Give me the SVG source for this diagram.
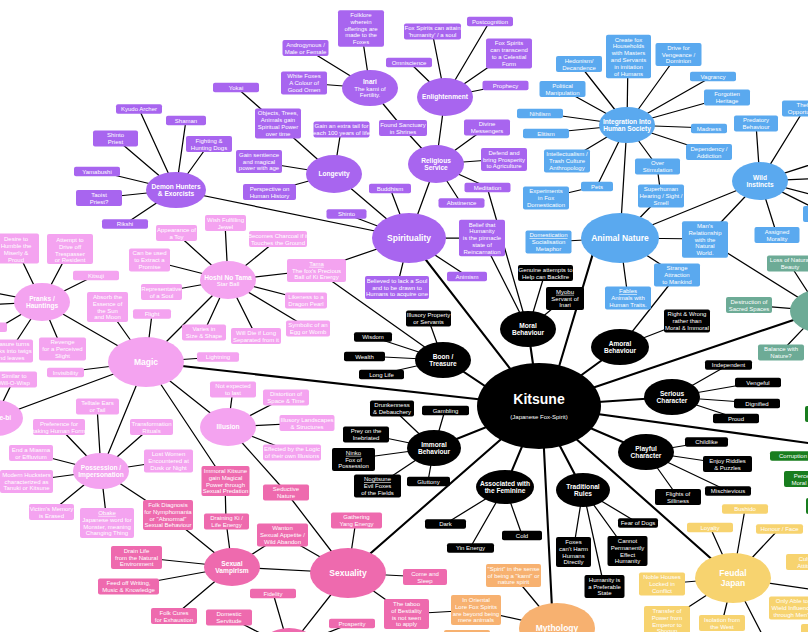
<svg xmlns="http://www.w3.org/2000/svg" width="808" height="632" viewBox="0 0 808 632">
<style>
.p{fill:#a865ef}.b{fill:#5aa9ef}.lp{fill:#f4a3f0}.hp{fill:#ee6aae}.k{fill:#000}.t{fill:#6dab96}.g{fill:#187d1e}.o{fill:#f7b170}.y{fill:#f7d36f}
rect{rx:2px;ry:2px}
text{font-family:"Liberation Sans",Arial,Helvetica,sans-serif;fill:#fff;text-anchor:middle}
.s{font-size:6px}
.e{font-size:6.6px;font-weight:bold}
.m{font-size:8.5px;font-weight:bold}
.kt{font-size:14px;font-weight:bold}
.u{text-decoration:underline}
#connectors path{stroke:#000;stroke-width:1.25;fill:none}
#connectors path.w{stroke-width:2.1}
</style>
<rect x="0" y="0" width="808" height="632" fill="#fff" style="rx:0"/>
<g id="connectors">
<path class="w" d="M539 406L409 238M443 358L530 416M539 406L528 329M549 400L597 240M539 406L620 347M539 406L672 397M539 406L646 452M539 406L583 490M543 430L553 628M539 406L505 487M539 406L434 448M539 406L348 573M539 406L146 362M539 406L733 578M539 406L820 311M539 406L830 446"/>
<path d="M409 238L436 164M409 238L390 188M409 238L346 214M409 238L482 238M409 238L467 276M409 238L397 287M409 238L334 174M409 238L176 190M409 238L316 270"/>
<path d="M436 164L445 97M436 164L403 128M436 164L487 127M436 164L504 159M436 164L487 187M436 164L461 203M487 187L528 329M482 238L528 329"/>
<path d="M445 97L432 31M445 97L490 21M445 97L409 62M445 97L509 53M445 97L505 85"/>
<path d="M370 88L361 28M370 88L305 48M370 88L304 83M370 88L403 128"/>
<path d="M334 174L341 130M334 174L278 124M334 174L259 162M334 174L269 192M278 124L236 87"/>
<path d="M176 190L139 109M176 190L186 120M176 190L209 144M176 190L115 138M176 190L97 171M176 190L99 198M176 190L125 224"/>
<path d="M443 360L428 318M443 360L373 337M443 360L364 356M443 360L381 374M443 360L316 270"/>
<path d="M528 329L545 273M528 329L565 298"/>
<path d="M620 238L627 125M620 238L760 181M620 238L548 242M620 238L628 298M620 238L705 239M620 238L677 275M620 238L661 196"/>
<path d="M627 125L628 56M627 125L678 54M627 125L713 76M627 125L727 97M627 125L709 128M627 125L709 152M627 125L657 166M627 125L579 64M627 125L562 89M627 125L540 113M627 125L546 133M627 125L567 161M627 125L597 186M597 186L546 198M657 166L661 196"/>
<path d="M760 181L756 124M760 181L805 108M760 181L777 235M760 181L705 239M760 181L825 160M760 181L825 178M760 181L825 198M760 181L826 214"/>
<path d="M705 239L820 311M677 275L620 347M620 347L687 321M820 311L789 263M820 311L749 305M820 311L781 352"/>
<path d="M672 397L728 365M672 397L758 382M672 397L757 403M672 397L736 418"/>
<path d="M646 452L706 442M646 452L727 464M646 452L728 491M646 452L678 497"/>
<path d="M583 490L573 552M583 490L604 586M583 490L627 551M583 490L638 523"/>
<path d="M505 487L445 524M505 487L470 548M505 487L522 535"/>
<path d="M434 448L392 408M434 448L445 410M434 448L366 434M434 448L353 459M434 448L377 486M434 448L428 481"/>
<path d="M733 578L745 509M733 578L710 527M733 578L779 529M733 578L662 584M733 578L667 621M733 578L722 623M733 578L765 640M733 578L830 592"/>
<path d="M557 628L513 575M557 628L476 610M476 610L406 614"/>
<path d="M348 573L356 520M348 573L286 492M348 573L282 535M348 573L232 567M348 573L406 614M348 573L425 577M348 573L289 648M289 648L273 593M289 648L229 617M289 648L352 623"/>
<path d="M232 567L226 521M232 567L282 535M232 567L168 515M232 567L136 557M232 567L128 586M232 567L174 616M226 521L225 481M146 362L225 481"/>
<path d="M228 427L233 389M228 427L286 397M228 427L307 423M228 427L292 452M228 427L286 492M228 427L146 362"/>
<path d="M101 471L59 427M101 471L151 427M101 471L31 453M101 471L26 481M101 471L51 512M101 471L107 523M101 471L168 461M101 471L168 515M101 471L97 406M101 471L146 362"/>
<path d="M146 362L42 302M146 362L107 307M146 362L152 314M146 362L65 372M146 362L-5 418M146 362L228 280M146 362L218 357M-5 418L14 379"/>
<path d="M228 280L225 223M228 280L278 239M228 280L316 270M228 280L306 300M228 280L308 328M228 280L256 336M228 280L204 332M228 280L176 233M228 280L149 260M228 280L161 292"/>
<path d="M42 302L16 248M42 302L70 249M42 302L96 275M42 302L62 349M42 302L10 351M42 302L0 327M42 302L-20 290M42 302L-20 305"/>
</g>

<g id="n-kitsune"><ellipse class="k" cx="539" cy="406" rx="62" ry="43"/><text class="kt" x="539" y="404">Kitsune</text><text class="s" x="539" y="418.5">(Japanese Fox-Spirit)</text></g>

<g id="n-spirituality"><ellipse class="p" cx="409" cy="238" rx="37" ry="25"/><text class="m" x="409" y="241">Spirituality</text></g>
<g id="n-inari"><ellipse class="p" cx="370" cy="88" rx="28" ry="18"/><text class="e" x="370" y="83.5">Inari</text><text class="s" y="90.5"><tspan x="370">The kami of</tspan><tspan x="370" dy="6.8">Fertility.</tspan></text></g>
<g id="n-enlightenment"><ellipse class="p" cx="445" cy="97" rx="28" ry="19"/><text class="e" x="445" y="99.4">Enlightenment</text></g>
<g id="n-religious"><ellipse class="p" cx="436" cy="164" rx="28" ry="19"/><text class="e" y="162.5"><tspan x="436">Religious</tspan><tspan x="436" dy="7.4">Service</tspan></text></g>
<g id="n-longevity"><ellipse class="p" cx="334" cy="174" rx="28" ry="19"/><text class="e" x="334" y="176.4">Longevity</text></g>
<g id="n-demon"><ellipse class="p" cx="176" cy="190" rx="30" ry="18"/><text class="e" y="188.5"><tspan x="176">Demon Hunters</tspan><tspan x="176" dy="7.4">&amp; Exorcists</tspan></text></g>

<g id="n-folklore"><rect class="p" x="338" y="10.2" width="46" height="36.6"/><text class="s" y="17"><tspan x="361">Folklore</tspan><tspan x="361" dy="6.8">wherein</tspan><tspan x="361" dy="6.8">offerings are</tspan><tspan x="361" dy="6.8">made to the</tspan><tspan x="361" dy="6.8">Foxes</tspan></text></g>
<g id="n-androgynous"><rect class="p" x="282.5" y="39.9" width="46" height="16.2"/><text class="s" y="46.7"><tspan x="305.5">Androgynous /</tspan><tspan x="305.5" dy="6.8">Male or Female</tspan></text></g>
<g id="n-whitefoxes"><rect class="p" x="281" y="71.5" width="46" height="23"/><text class="s" y="78.3"><tspan x="304">White Foxes</tspan><tspan x="304" dy="6.8">A Colour of</tspan><tspan x="304" dy="6.8">Good Omen</tspan></text></g>
<g id="n-yokai"><rect class="p" x="213" y="82.8" width="46" height="9.4"/><text class="s" x="236" y="89.6">Yokai</text></g>
<g id="n-objects"><rect class="p" x="255" y="108.6" width="46" height="29.8"/><text class="s" y="115.4"><tspan x="278">Objects, Trees,</tspan><tspan x="278" dy="6.8">Animals gain</tspan><tspan x="278" dy="6.8">Spiritual Power</tspan><tspan x="278" dy="6.8">over time</tspan></text></g>
<g id="n-extratail"><rect class="p" x="313.5" y="121.4" width="56" height="16.2"/><text class="s" y="128.2"><tspan x="341.5">Gain an extra tail for</tspan><tspan x="341.5" dy="6.8">each 100 years of life</tspan></text></g>
<g id="n-sanctuary"><rect class="p" x="379" y="119.9" width="48" height="16.2"/><text class="s" y="126.7"><tspan x="403">Found Sanctuary</tspan><tspan x="403" dy="6.8">in Shrines</tspan></text></g>
<g id="n-sentience"><rect class="p" x="236" y="150" width="46" height="23"/><text class="s" y="156.8"><tspan x="259">Gain sentience</tspan><tspan x="259" dy="6.8">and magical</tspan><tspan x="259" dy="6.8">power with age</tspan></text></g>
<g id="n-perspective"><rect class="p" x="243" y="183.9" width="53" height="16.2"/><text class="s" y="190.7"><tspan x="269.5">Perspective on</tspan><tspan x="269.5" dy="6.8">Human History</tspan></text></g>
<g id="n-buddhism"><rect class="p" x="369" y="183.8" width="42" height="9.4"/><text class="s" x="390" y="190.6">Buddhism</text></g>
<g id="n-attain"><rect class="p" x="404" y="23.4" width="57" height="16.2"/><text class="s" y="30.2"><tspan x="432.5">Fox Spirits can attain</tspan><tspan x="432.5" dy="6.8">'humanity' / a soul</tspan></text></g>
<g id="n-postcognition"><rect class="p" x="467" y="16.8" width="46" height="9.4"/><text class="s" x="490" y="23.6">Postcognition</text></g>
<g id="n-omniscience"><rect class="p" x="386" y="57.8" width="46" height="9.4"/><text class="s" x="409" y="64.6">Omniscience</text></g>
<g id="n-transcend"><rect class="p" x="486" y="38.6" width="46" height="29.8"/><text class="s" y="45.4"><tspan x="509">Fox Spirits</tspan><tspan x="509" dy="6.8">can transcend</tspan><tspan x="509" dy="6.8">to a Celestial</tspan><tspan x="509" dy="6.8">Form</tspan></text></g>
<g id="n-prophecy"><rect class="p" x="482.5" y="80.8" width="46" height="9.4"/><text class="s" x="505.5" y="87.6">Prophecy</text></g>
<g id="n-divine"><rect class="p" x="464" y="119.4" width="46" height="16.2"/><text class="s" y="126.2"><tspan x="487">Divine</tspan><tspan x="487" dy="6.8">Messengers</tspan></text></g>
<g id="n-defend"><rect class="p" x="481" y="148" width="46" height="23"/><text class="s" y="154.8"><tspan x="504">Defend and</tspan><tspan x="504" dy="6.8">bring Prosperity</tspan><tspan x="504" dy="6.8">to Agriculture</tspan></text></g>
<g id="n-meditation"><rect class="p" x="464.5" y="182.8" width="46" height="9.4"/><text class="s" x="487.5" y="189.6">Meditation</text></g>
<g id="n-abstinence"><rect class="p" x="438.5" y="198.3" width="46" height="9.4"/><text class="s" x="461.5" y="205.1">Abstinence</text></g>
<g id="n-shinto"><rect class="p" x="326.5" y="209.3" width="40" height="9.4"/><text class="s" x="346.5" y="216.1">Shinto</text></g>
<g id="n-belief"><rect class="p" x="459" y="219.7" width="46" height="36.6"/><text class="s" y="226.6"><tspan x="482">Belief that</tspan><tspan x="482" dy="6.8">Humanity</tspan><tspan x="482" dy="6.8">is the pinnacle</tspan><tspan x="482" dy="6.8">state of</tspan><tspan x="482" dy="6.8">Reincarnation</tspan></text></g>
<g id="n-animism"><rect class="p" x="447" y="271.8" width="40" height="9.4"/><text class="s" x="467" y="278.6">Animism</text></g>
<g id="n-believed"><rect class="p" x="365" y="276" width="64" height="23"/><text class="s" y="282.8"><tspan x="397">Believed to lack a Soul</tspan><tspan x="397" dy="6.8">and to be drawn to</tspan><tspan x="397" dy="6.8">Humans to acquire one</tspan></text></g>
<g id="n-kyudo"><rect class="p" x="116" y="104.3" width="46" height="9.4"/><text class="s" x="139" y="111.1">Kyudo Archer</text></g>
<g id="n-shaman"><rect class="p" x="166" y="115.8" width="40" height="9.4"/><text class="s" x="186" y="122.6">Shaman</text></g>
<g id="n-fighting"><rect class="p" x="186" y="135.9" width="46" height="16.2"/><text class="s" y="142.7"><tspan x="209">Fighting &amp;</tspan><tspan x="209" dy="6.8">Hunting Dogs</tspan></text></g>
<g id="n-shintopriest"><rect class="p" x="93" y="130.4" width="45" height="16.2"/><text class="s" y="137.2"><tspan x="115.5">Shinto</tspan><tspan x="115.5" dy="6.8">Priest</tspan></text></g>
<g id="n-yamabushi"><rect class="p" x="74" y="166.8" width="46" height="9.4"/><text class="s" x="97" y="173.6">Yamabushi</text></g>
<g id="n-taoist"><rect class="p" x="76" y="189.9" width="46" height="16.2"/><text class="s" y="196.7"><tspan x="99">Taoist</tspan><tspan x="99" dy="6.8">Priest?</tspan></text></g>
<g id="n-rikshi"><rect class="p" x="102" y="219.3" width="46" height="9.4"/><text class="s" x="125" y="226.1">Rikshi</text></g>

<g id="n-animal"><ellipse class="b" cx="620" cy="238" rx="39" ry="25"/><text class="m" x="620" y="241">Animal Nature</text></g>
<g id="n-integration"><ellipse class="b" cx="627" cy="125" rx="28" ry="18"/><text class="e" y="123.5"><tspan x="627">Integration Into</tspan><tspan x="627" dy="7.4">Human Society</tspan></text></g>
<g id="n-wild"><ellipse class="b" cx="760" cy="181" rx="28" ry="19"/><text class="e" y="179.5"><tspan x="760">Wild</tspan><tspan x="760" dy="7.4">Instincts</tspan></text></g>
<g id="n-hedonism"><rect class="b" x="556" y="55.9" width="46" height="16.2"/><text class="s" y="62.7"><tspan x="579">Hedonism/</tspan><tspan x="579" dy="6.8">Decandence</tspan></text></g>
<g id="n-political"><rect class="b" x="539.5" y="80.9" width="46" height="16.2"/><text class="s" y="87.7"><tspan x="562.5">Political</tspan><tspan x="562.5" dy="6.8">Manipulation</tspan></text></g>
<g id="n-nihilism"><rect class="b" x="517" y="108.8" width="46" height="9.4"/><text class="s" x="540" y="115.6">Nihilism</text></g>
<g id="n-elitism"><rect class="b" x="523" y="128.8" width="46" height="9.4"/><text class="s" x="546" y="135.6">Elitism</text></g>
<g id="n-intellect"><rect class="b" x="544" y="149.5" width="46" height="23"/><text class="s" y="156.3"><tspan x="567">Intellectualism /</tspan><tspan x="567" dy="6.8">Trash Culture</tspan><tspan x="567" dy="6.8">Anthropology</tspan></text></g>
<g id="n-experiments"><rect class="b" x="523" y="186.5" width="46" height="23"/><text class="s" y="193.3"><tspan x="546">Experiments</tspan><tspan x="546" dy="6.8">in Fox</tspan><tspan x="546" dy="6.8">Domestication</tspan></text></g>
<g id="n-pets"><rect class="b" x="581" y="181.8" width="32" height="9.4"/><text class="s" x="597" y="188.6">Pets</text></g>
<g id="n-create"><rect class="b" x="606" y="34.8" width="45" height="43.4"/><text class="s" y="41.6"><tspan x="628.5">Create fox</tspan><tspan x="628.5" dy="6.8">Households</tspan><tspan x="628.5" dy="6.8">with Masters</tspan><tspan x="628.5" dy="6.8">and Servants</tspan><tspan x="628.5" dy="6.8">in imitation</tspan><tspan x="628.5" dy="6.8">of Humans</tspan></text></g>
<g id="n-drive"><rect class="b" x="655.5" y="43" width="46" height="23"/><text class="s" y="49.8"><tspan x="678.5">Drive for</tspan><tspan x="678.5" dy="6.8">Vengeance /</tspan><tspan x="678.5" dy="6.8">Dominion</tspan></text></g>
<g id="n-vagrancy"><rect class="b" x="690" y="71.8" width="46" height="9.4"/><text class="s" x="713" y="78.6">Vagrancy</text></g>
<g id="n-forgotten"><rect class="b" x="704" y="89.4" width="46" height="16.2"/><text class="s" y="96.2"><tspan x="727">Forgotten</tspan><tspan x="727" dy="6.8">Heritage</tspan></text></g>
<g id="n-madness"><rect class="b" x="691" y="123.8" width="36" height="9.4"/><text class="s" x="709" y="130.6">Madness</text></g>
<g id="n-dependency"><rect class="b" x="686" y="143.9" width="46" height="16.2"/><text class="s" y="150.7"><tspan x="709">Dependency /</tspan><tspan x="709" dy="6.8">Addiction</tspan></text></g>
<g id="n-over"><rect class="b" x="635" y="158.4" width="45" height="16.2"/><text class="s" y="165.2"><tspan x="657.5">Over</tspan><tspan x="657.5" dy="6.8">Stimulation</tspan></text></g>
<g id="n-superhuman"><rect class="b" x="638" y="184.5" width="46" height="23"/><text class="s" y="191.3"><tspan x="661">Superhuman</tspan><tspan x="661" dy="6.8">Hearing / Sight /</tspan><tspan x="661" dy="6.8">Smell</tspan></text></g>
<g id="n-predatory"><rect class="b" x="734" y="115.4" width="44" height="16.2"/><text class="s" y="122.2"><tspan x="756">Predatory</tspan><tspan x="756" dy="6.8">Behaviour</tspan></text></g>
<g id="n-theft"><rect class="b" x="782" y="100.4" width="46" height="16.2"/><text class="s" y="107.2"><tspan x="805">Theft /</tspan><tspan x="805" dy="6.8">Opportunism</tspan></text></g>
<g id="n-domestication"><rect class="b" x="525.5" y="230.5" width="46" height="23"/><text class="s" y="237.3"><tspan x="548.5" class="u">Domestication</tspan><tspan x="548.5" dy="6.8">Socialisation</tspan><tspan x="548.5" dy="6.8">Metaphor</tspan></text></g>
<g id="n-mans"><rect class="b" x="682" y="221.2" width="46" height="36.6"/><text class="s" y="228"><tspan x="705">Man's</tspan><tspan x="705" dy="6.8">Relationship</tspan><tspan x="705" dy="6.8">with the</tspan><tspan x="705" dy="6.8">Natural</tspan><tspan x="705" dy="6.8">World.</tspan></text></g>
<g id="n-strange"><rect class="b" x="654" y="263.5" width="46" height="23"/><text class="s" y="270.3"><tspan x="677">Strange</tspan><tspan x="677" dy="6.8">Attraction</tspan><tspan x="677" dy="6.8">to Mankind</tspan></text></g>
<g id="n-fables"><rect class="b" x="605" y="286.5" width="46" height="23"/><text class="s" y="293.3"><tspan x="628" class="u">Fables</tspan><tspan x="628" dy="6.8">Animals with</tspan><tspan x="628" dy="6.8">Human Traits.</tspan></text></g>
<g id="n-assigned"><rect class="b" x="754.5" y="226.9" width="45" height="16.2"/><text class="s" y="233.7"><tspan x="777">Assigned</tspan><tspan x="777" dy="6.8">Morality</tspan></text></g>
<g id="n-blueedge"><rect class="b" x="803" y="206" width="46" height="16"/></g>

<g id="n-magic"><ellipse class="lp" cx="146" cy="362" rx="38" ry="25"/><text class="m" x="146" y="365">Magic</text></g>
<g id="n-pranks"><ellipse class="lp" cx="42" cy="302" rx="28" ry="19"/><text class="e" y="300.5"><tspan x="42">Pranks /</tspan><tspan x="42" dy="7.4">Hauntings</tspan></text></g>
<g id="n-hoshi"><ellipse class="lp" cx="228" cy="280" rx="28" ry="19"/><text class="e" x="228" y="279.5">Hoshi No Tama</text><text class="s" x="228" y="286.3">Star Ball</text></g>
<g id="n-illusion"><ellipse class="lp" cx="228" cy="427" rx="28" ry="19"/><text class="e" x="228" y="429.4">Illusion</text></g>
<g id="n-possession"><ellipse class="lp" cx="101" cy="471" rx="28" ry="18"/><text class="e" y="469.5"><tspan x="101">Possession /</tspan><tspan x="101" dy="7.4">Impersonation</tspan></text></g>
<g id="n-kitsunebi"><ellipse class="lp" cx="-5" cy="418" rx="28" ry="18"/><text class="e" x="-5" y="420.4">Kitsune-bi</text></g>
<g id="n-desire"><rect class="lp" x="-7" y="233.6" width="46" height="29.8"/><text class="s" y="241.4"><tspan x="16">Desire to</tspan><tspan x="16" dy="6.8">Humble the</tspan><tspan x="16" dy="6.8">Miserly &amp;</tspan><tspan x="16" dy="6.8">Proud</tspan></text></g>
<g id="n-attempt"><rect class="lp" x="47" y="234.1" width="46" height="29.8"/><text class="s" y="241.9"><tspan x="70">Attempt to</tspan><tspan x="70" dy="6.8">Drive off</tspan><tspan x="70" dy="6.8">Trespasser</tspan><tspan x="70" dy="6.8">or Resident</tspan></text></g>
<g id="n-kitsuji"><rect class="lp" x="73" y="270.8" width="46" height="9.4"/><text class="s" x="96" y="277.6">Kitsuji</text></g>
<g id="n-absorb"><rect class="lp" x="87" y="292.1" width="41" height="29.8"/><text class="s" y="298.9"><tspan x="107.5">Absorb the</tspan><tspan x="107.5" dy="6.8">Essence of</tspan><tspan x="107.5" dy="6.8">the Sun</tspan><tspan x="107.5" dy="6.8">and Moon</tspan></text></g>
<g id="n-flight"><rect class="lp" x="133" y="309.3" width="38" height="9.4"/><text class="s" x="152" y="316.1">Flight</text></g>
<g id="n-revenge"><rect class="lp" x="39" y="337.5" width="47" height="23"/><text class="s" y="344.3"><tspan x="62.5">Revenge</tspan><tspan x="62.5" dy="6.8">for a Perceived</tspan><tspan x="62.5" dy="6.8">Slight</tspan></text></g>
<g id="n-treasure"><rect class="lp" x="-13" y="339.5" width="46" height="23"/><text class="s" y="346.3"><tspan x="10">Treasure turns</tspan><tspan x="10" dy="6.8">Rocks into twigs</tspan><tspan x="10" dy="6.8">and leaves</tspan></text></g>
<g id="n-pinkedge"><rect class="lp" x="-40" y="322.5" width="47" height="9.4"/></g>
<g id="n-invisibility"><rect class="lp" x="47" y="367.8" width="37" height="9.4"/><text class="s" x="65.5" y="374.6">Invisibility</text></g>
<g id="n-similar"><rect class="lp" x="-9" y="371.4" width="46" height="16.2"/><text class="s" y="378.2"><tspan x="14">Similar to</tspan><tspan x="14" dy="6.8">Will-O-Wisp</tspan></text></g>
<g id="n-telltale"><rect class="lp" x="76" y="398.4" width="43" height="16.2"/><text class="s" y="405.2"><tspan x="97.5">Telltale Ears</tspan><tspan x="97.5" dy="6.8">or Tail</tspan></text></g>
<g id="n-appearance"><rect class="lp" x="156" y="224.9" width="41" height="16.2"/><text class="s" y="231.7"><tspan x="176.5">Appearance of</tspan><tspan x="176.5" dy="6.8">a Toy</tspan></text></g>
<g id="n-canbeused"><rect class="lp" x="129" y="248.5" width="41" height="23"/><text class="s" y="255.3"><tspan x="149.5">Can be used</tspan><tspan x="149.5" dy="6.8">to Extract a</tspan><tspan x="149.5" dy="6.8">Promise</tspan></text></g>
<g id="n-representative"><rect class="lp" x="141" y="283.9" width="41" height="16.2"/><text class="s" y="290.7"><tspan x="161.5">Representative</tspan><tspan x="161.5" dy="6.8">of a Soul</tspan></text></g>
<g id="n-wish"><rect class="lp" x="205" y="214.9" width="41" height="16.2"/><text class="s" y="221.7"><tspan x="225.5">Wish Fulfilling</tspan><tspan x="225.5" dy="6.8">Jewel</tspan></text></g>
<g id="n-charcoal"><rect class="lp" x="249" y="230.9" width="58" height="16.2"/><text class="s" y="237.7"><tspan x="278">Becomes Charcoal if it</tspan><tspan x="278" dy="6.8">Touches the Ground</tspan></text></g>
<g id="n-tama"><rect class="lp" x="287" y="259" width="59" height="23"/><text class="s" y="265.8"><tspan x="316.5" class="u">Tama</tspan><tspan x="316.5" dy="6.8">The fox's Precious</tspan><tspan x="316.5" dy="6.8">Ball of Ki Energy</tspan></text></g>
<g id="n-likeness"><rect class="lp" x="285" y="292.4" width="42" height="16.2"/><text class="s" y="299.2"><tspan x="306">Likeness to a</tspan><tspan x="306" dy="6.8">Dragon Pearl</tspan></text></g>
<g id="n-symbolic"><rect class="lp" x="286" y="320.4" width="44" height="16.2"/><text class="s" y="327.2"><tspan x="308">Symbolic of an</tspan><tspan x="308" dy="6.8">Egg or Womb</tspan></text></g>
<g id="n-willdie"><rect class="lp" x="231" y="327.9" width="50" height="16.2"/><text class="s" y="334.7"><tspan x="256">Will Die if Long</tspan><tspan x="256" dy="6.8">Separated from it</tspan></text></g>
<g id="n-varies"><rect class="lp" x="182" y="324.4" width="44" height="16.2"/><text class="s" y="331.2"><tspan x="204">Varies in</tspan><tspan x="204" dy="6.8">Size &amp; Shape</tspan></text></g>
<g id="n-lightning"><rect class="lp" x="197" y="352.3" width="42" height="9.4"/><text class="s" x="218" y="359.1">Lightning</text></g>
<g id="n-notexpected"><rect class="lp" x="210" y="381.4" width="46" height="16.2"/><text class="s" y="388.2"><tspan x="233">Not expected</tspan><tspan x="233" dy="6.8">to last</tspan></text></g>
<g id="n-distortion"><rect class="lp" x="263" y="389.4" width="46" height="16.2"/><text class="s" y="396.2"><tspan x="286">Distortion of</tspan><tspan x="286" dy="6.8">Space &amp; Time</tspan></text></g>
<g id="n-landscapes"><rect class="lp" x="279.5" y="414.9" width="55" height="16.2"/><text class="s" y="421.7"><tspan x="307">Illusory Landscapes</tspan><tspan x="307" dy="6.8">&amp; Structures</tspan></text></g>
<g id="n-effected"><rect class="lp" x="263" y="444.4" width="58" height="16.2"/><text class="s" y="451.2"><tspan x="292">Effected by the Logic</tspan><tspan x="292" dy="6.8">of their own Illusions</tspan></text></g>
<g id="n-preference"><rect class="lp" x="33" y="418.9" width="52" height="16.2"/><text class="s" y="425.7"><tspan x="59">Preference for</tspan><tspan x="59" dy="6.8">taking Human Form</tspan></text></g>
<g id="n-transformation"><rect class="lp" x="130" y="418.9" width="43" height="16.2"/><text class="s" y="425.7"><tspan x="151.5">Transformation</tspan><tspan x="151.5" dy="6.8">Rituals</tspan></text></g>
<g id="n-miasma"><rect class="lp" x="9" y="444.9" width="44" height="16.2"/><text class="s" y="451.7"><tspan x="31">End a Miasma</tspan><tspan x="31" dy="6.8">or Effluvium</tspan></text></g>
<g id="n-hucksters"><rect class="lp" x="0" y="470" width="53" height="23"/><text class="s" y="476.8"><tspan x="26.5">Modern Hucksters</tspan><tspan x="26.5" dy="6.8">characterized as</tspan><tspan x="26.5" dy="6.8">Tanuki or Kitsune</tspan></text></g>
<g id="n-lostwomen"><rect class="lp" x="144" y="449.5" width="49" height="23"/><text class="s" y="456.3"><tspan x="168.5">Lost Women</tspan><tspan x="168.5" dy="6.8">Encountered at</tspan><tspan x="168.5" dy="6.8">Dusk or Night</tspan></text></g>
<g id="n-victim"><rect class="lp" x="29" y="503.9" width="45" height="16.2"/><text class="s" y="510.7"><tspan x="51.5">Victim's Memory</tspan><tspan x="51.5" dy="6.8">is Erased</tspan></text></g>
<g id="n-obake"><rect class="lp" x="80" y="508.1" width="54" height="29.8"/><text class="s" y="514.9"><tspan x="107" class="u">Obake</tspan><tspan x="107" dy="6.8">Japanese word for</tspan><tspan x="107" dy="6.8">Monster, meaning</tspan><tspan x="107" dy="6.8">Changing Thing</tspan></text></g>

<g id="n-sexuality"><ellipse class="hp" cx="348" cy="573" rx="38" ry="25"/><text class="m" x="348" y="576">Sexuality</text></g>
<g id="n-vampirism"><ellipse class="hp" cx="232" cy="567" rx="28" ry="19"/><text class="e" y="565.5"><tspan x="232">Sexual</tspan><tspan x="232" dy="7.4">Vampirism</tspan></text></g>
<g id="n-pinkbottom"><ellipse class="hp" cx="289" cy="650" rx="30" ry="22"/></g>
<g id="n-immoralkitsune"><rect class="hp" x="201.5" y="466.1" width="48" height="29.8"/><text class="s" y="472.9"><tspan x="225.5">Immoral Kitsune</tspan><tspan x="225.5" dy="6.8">gain Magical</tspan><tspan x="225.5" dy="6.8">Power through</tspan><tspan x="225.5" dy="6.8">Sexual Predation</tspan></text></g>
<g id="n-seductive"><rect class="hp" x="263" y="484.4" width="46" height="16.2"/><text class="s" y="491.2"><tspan x="286">Seductive</tspan><tspan x="286" dy="6.8">Nature</tspan></text></g>
<g id="n-gathering"><rect class="hp" x="331" y="512.4" width="51" height="16.2"/><text class="s" y="519.2"><tspan x="356.5">Gathering</tspan><tspan x="356.5" dy="6.8">Yang Energy</tspan></text></g>
<g id="n-draining"><rect class="hp" x="204" y="513.4" width="45" height="16.2"/><text class="s" y="520.2"><tspan x="226.5">Draining Ki /</tspan><tspan x="226.5" dy="6.8">Life Energy</tspan></text></g>
<g id="n-wanton"><rect class="hp" x="257" y="523.5" width="51" height="23"/><text class="s" y="530.3"><tspan x="282.5">Wanton</tspan><tspan x="282.5" dy="6.8">Sexual Appetite /</tspan><tspan x="282.5" dy="6.8">Wild Abandon</tspan></text></g>
<g id="n-diagnosis"><rect class="hp" x="143" y="500.1" width="50" height="29.8"/><text class="s" y="506.9"><tspan x="168">Folk Diagnosis</tspan><tspan x="168" dy="6.8">for Nymphomania</tspan><tspan x="168" dy="6.8">or "Abnormal"</tspan><tspan x="168" dy="6.8">Sexual Behaviour</tspan></text></g>
<g id="n-drainlife"><rect class="hp" x="111" y="546" width="51" height="23"/><text class="s" y="552.8"><tspan x="136.5">Drain Life</tspan><tspan x="136.5" dy="6.8">from the Natural</tspan><tspan x="136.5" dy="6.8">Environment</tspan></text></g>
<g id="n-feedoff"><rect class="hp" x="98" y="578.4" width="61" height="16.2"/><text class="s" y="585.2"><tspan x="128.5">Feed off Writing,</tspan><tspan x="128.5" dy="6.8">Music &amp; Knowledge</tspan></text></g>
<g id="n-folkcures"><rect class="hp" x="151" y="607.9" width="46" height="16.2"/><text class="s" y="614.7"><tspan x="174">Folk Cures</tspan><tspan x="174" dy="6.8">for Exhaustion</tspan></text></g>
<g id="n-fidelity"><rect class="hp" x="250" y="588.8" width="46" height="9.4"/><text class="s" x="273" y="595.6">Fidelity</text></g>
<g id="n-domestic"><rect class="hp" x="206" y="609.4" width="46" height="16.2"/><text class="s" y="616.2"><tspan x="229">Domestic</tspan><tspan x="229" dy="6.8">Servitude</tspan></text></g>
<g id="n-prosperity"><rect class="hp" x="329" y="618.8" width="46" height="9.4"/><text class="s" x="352" y="625.6">Prosperity</text></g>
<g id="n-taboo"><rect class="hp" x="384" y="599.1" width="45" height="29.8"/><text class="s" y="605.9"><tspan x="406.5">The taboo</tspan><tspan x="406.5" dy="6.8">of Bestiality</tspan><tspan x="406.5" dy="6.8">is not seen</tspan><tspan x="406.5" dy="6.8">to apply</tspan></text></g>
<g id="n-comesleep"><rect class="hp" x="403" y="568.9" width="44" height="16.2"/><text class="s" y="575.7"><tspan x="425">Come and</tspan><tspan x="425" dy="6.8">Sleep</tspan></text></g>

<g id="n-mythology"><ellipse class="o" cx="557" cy="628" rx="38" ry="25"/><text class="m" x="557" y="631">Mythology</text></g>
<g id="n-spirit"><rect class="o" x="486" y="564" width="55" height="23"/><text class="s" y="570.8"><tspan x="513.5">"Spirit" in the sense</tspan><tspan x="513.5" dy="6.8">of being a "kami" or</tspan><tspan x="513.5" dy="6.8">nature spirit</tspan></text></g>
<g id="n-oriental"><rect class="o" x="451" y="595.1" width="50" height="29.8"/><text class="s" y="601.9"><tspan x="476">In Oriental</tspan><tspan x="476" dy="6.8">Lore Fox Spirits</tspan><tspan x="476" dy="6.8">are beyond being</tspan><tspan x="476" dy="6.8">mere animals</tspan></text></g>
<g id="n-orangeedge"><rect class="o" x="444" y="630" width="46" height="12"/></g>

<g id="n-feudal"><ellipse class="y" cx="733" cy="578" rx="38" ry="25"/><text class="m" y="575.7"><tspan x="733">Feudal</tspan><tspan x="733" dy="10">Japan</tspan></text></g>
<g id="n-bushido"><rect class="y" x="722" y="504.3" width="46" height="9.4"/><text class="s" x="745" y="511.1">Bushido</text></g>
<g id="n-loyalty"><rect class="y" x="687" y="522.8" width="46" height="9.4"/><text class="s" x="710" y="529.6">Loyalty</text></g>
<g id="n-honour"><rect class="y" x="756" y="524.3" width="47" height="9.4"/><text class="s" x="779.5" y="531.1">Honour / Face</text></g>
<g id="n-cultural"><rect class="y" x="786" y="553.9" width="46" height="16.2"/><text class="s" y="560.7"><tspan x="809">Cultural</tspan><tspan x="809" dy="6.8">Attitudes</tspan></text></g>
<g id="n-noble"><rect class="y" x="639" y="572.5" width="46" height="23"/><text class="s" y="579.3"><tspan x="662">Noble Houses</tspan><tspan x="662" dy="6.8">Locked in</tspan><tspan x="662" dy="6.8">Conflict</tspan></text></g>
<g id="n-transfer"><rect class="y" x="644" y="606.1" width="46" height="29.8"/><text class="s" y="612.9"><tspan x="667">Transfer of</tspan><tspan x="667" dy="6.8">Power from</tspan><tspan x="667" dy="6.8">Emperor to</tspan><tspan x="667" dy="6.8">Shogun</tspan></text></g>
<g id="n-isolation"><rect class="y" x="699" y="614.9" width="46" height="16.2"/><text class="s" y="621.7"><tspan x="722">Isolation from</tspan><tspan x="722" dy="6.8">the West</tspan></text></g>
<g id="n-onlyable"><rect class="y" x="769" y="596.5" width="46" height="23"/><text class="s" y="603.3"><tspan x="792">Only Able to</tspan><tspan x="792" dy="6.8">Wield Influence</tspan><tspan x="792" dy="6.8">through Men?</tspan></text></g>
<g id="n-yellowedge"><rect class="y" x="801" y="624" width="46" height="16"/></g>

<g id="n-boon"><ellipse class="k" cx="443" cy="360" rx="28" ry="18"/><text class="e" y="358.5"><tspan x="443">Boon /</tspan><tspan x="443" dy="7.4">Treasure</tspan></text></g>
<g id="n-moral"><ellipse class="k" cx="528" cy="329" rx="28" ry="18"/><text class="e" y="327.5"><tspan x="528">Moral</tspan><tspan x="528" dy="7.4">Behaviour</tspan></text></g>
<g id="n-amoral"><ellipse class="k" cx="620" cy="347" rx="29" ry="18"/><text class="e" y="345.5"><tspan x="620">Amoral</tspan><tspan x="620" dy="7.4">Behaviour</tspan></text></g>
<g id="n-serious"><ellipse class="k" cx="672" cy="397" rx="28" ry="18"/><text class="e" y="395.5"><tspan x="672">Serious</tspan><tspan x="672" dy="7.4">Character</tspan></text></g>
<g id="n-playful"><ellipse class="k" cx="646" cy="452" rx="28" ry="18"/><text class="e" y="450.5"><tspan x="646">Playful</tspan><tspan x="646" dy="7.4">Character</tspan></text></g>
<g id="n-traditional"><ellipse class="k" cx="583" cy="490" rx="27" ry="17"/><text class="e" y="488.5"><tspan x="583">Traditional</tspan><tspan x="583" dy="7.4">Rules</tspan></text></g>
<g id="n-feminine"><ellipse class="k" cx="505" cy="487" rx="29" ry="17"/><text class="e" y="485.5"><tspan x="505">Associated with</tspan><tspan x="505" dy="7.4">the Feminine</tspan></text></g>
<g id="n-immoral"><ellipse class="k" cx="434" cy="448" rx="27" ry="18"/><text class="e" y="446.5"><tspan x="434">Immoral</tspan><tspan x="434" dy="7.4">Behaviour</tspan></text></g>
<g id="n-illusory"><rect class="k" x="406" y="310.4" width="45" height="16.2"/><text class="s" y="317.2"><tspan x="428.5">Illusory Property</tspan><tspan x="428.5" dy="6.8">or Servants</tspan></text></g>
<g id="n-wisdom"><rect class="k" x="354" y="332.3" width="38" height="9.4"/><text class="s" x="373" y="339.1">Wisdom</text></g>
<g id="n-wealth"><rect class="k" x="344" y="351.8" width="41" height="9.4"/><text class="s" x="364.5" y="358.6">Wealth</text></g>
<g id="n-longlife"><rect class="k" x="359" y="369.8" width="45" height="9.4"/><text class="s" x="381.5" y="376.6">Long Life</text></g>
<g id="n-genuine"><rect class="k" x="518" y="264.9" width="55" height="16.2"/><text class="s" y="271.7"><tspan x="545.5">Genuine attempts to</tspan><tspan x="545.5" dy="6.8">Help can Backfire</tspan></text></g>
<g id="n-myobu"><rect class="k" x="546" y="287" width="38" height="23"/><text class="s" y="293.8"><tspan x="565" class="u">Myobu</tspan><tspan x="565" dy="6.8">Servant of</tspan><tspan x="565" dy="6.8">Inari</tspan></text></g>
<g id="n-rightwrong"><rect class="k" x="664" y="309.5" width="46" height="23"/><text class="s" y="316.3"><tspan x="687">Right &amp; Wrong</tspan><tspan x="687" dy="6.8">rather than</tspan><tspan x="687" dy="6.8">Moral &amp; Immoral</tspan></text></g>
<g id="n-independent"><rect class="k" x="705" y="360.3" width="47" height="9.4"/><text class="s" x="728.5" y="367.1">Independent</text></g>
<g id="n-vengeful"><rect class="k" x="735" y="377.8" width="46" height="9.4"/><text class="s" x="758" y="384.6">Vengeful</text></g>
<g id="n-dignified"><rect class="k" x="734" y="398.8" width="46" height="9.4"/><text class="s" x="757" y="405.6">Dignified</text></g>
<g id="n-proud"><rect class="k" x="713" y="413.8" width="46" height="9.4"/><text class="s" x="736" y="420.6">Proud</text></g>
<g id="n-drunkenness"><rect class="k" x="370" y="400.4" width="44" height="16.2"/><text class="s" y="407.2"><tspan x="392">Drunkenness</tspan><tspan x="392" dy="6.8">&amp; Debauchery</tspan></text></g>
<g id="n-gambling"><rect class="k" x="422" y="405.8" width="47" height="9.4"/><text class="s" x="445.5" y="412.6">Gambling</text></g>
<g id="n-prey"><rect class="k" x="343" y="426.4" width="46" height="16.2"/><text class="s" y="433.2"><tspan x="366">Prey on the</tspan><tspan x="366" dy="6.8">Inebriated</tspan></text></g>
<g id="n-ninko"><rect class="k" x="332" y="448" width="43" height="23"/><text class="s" y="454.8"><tspan x="353.5" class="u">Ninko</tspan><tspan x="353.5" dy="6.8">Fox of</tspan><tspan x="353.5" dy="6.8">Possession</tspan></text></g>
<g id="n-nogitsune"><rect class="k" x="354" y="474.5" width="47" height="23"/><text class="s" y="481.3"><tspan x="377.5" class="u">Nogitsune</tspan><tspan x="377.5" dy="6.8">Evil Foxes</tspan><tspan x="377.5" dy="6.8">of the Fields</tspan></text></g>
<g id="n-gluttony"><rect class="k" x="407" y="476.8" width="43" height="9.4"/><text class="s" x="428.5" y="483.6">Gluttony</text></g>
<g id="n-dark"><rect class="k" x="425" y="519.3" width="41" height="9.4"/><text class="s" x="445.5" y="526.1">Dark</text></g>
<g id="n-cold"><rect class="k" x="502" y="530.8" width="40" height="9.4"/><text class="s" x="522" y="537.6">Cold</text></g>
<g id="n-yin"><rect class="k" x="447" y="543.3" width="47" height="9.4"/><text class="s" x="470.5" y="550.1">Yin Energy</text></g>
<g id="n-foxescant"><rect class="k" x="556" y="537.1" width="35" height="29.8"/><text class="s" y="543.9"><tspan x="573.5">Foxes</tspan><tspan x="573.5" dy="6.8">can't Harm</tspan><tspan x="573.5" dy="6.8">Humans</tspan><tspan x="573.5" dy="6.8">Directly</tspan></text></g>
<g id="n-humanity"><rect class="k" x="584.5" y="575" width="40" height="23"/><text class="s" y="581.8"><tspan x="604.5">Humanity is</tspan><tspan x="604.5" dy="6.8">a Preferable</tspan><tspan x="604.5" dy="6.8">State</tspan></text></g>
<g id="n-cannot"><rect class="k" x="607.5" y="536.1" width="40" height="29.8"/><text class="s" y="542.9"><tspan x="627.5">Cannot</tspan><tspan x="627.5" dy="6.8">Permanently</tspan><tspan x="627.5" dy="6.8">Effect</tspan><tspan x="627.5" dy="6.8">Humanity</tspan></text></g>
<g id="n-feardogs"><rect class="k" x="618" y="518.3" width="40" height="9.4"/><text class="s" x="638" y="525.1">Fear of Dogs</text></g>
<g id="n-childlike"><rect class="k" x="685" y="437.3" width="43" height="9.4"/><text class="s" x="706.5" y="444.1">Childlike</text></g>
<g id="n-riddles"><rect class="k" x="703" y="455.9" width="49" height="16.2"/><text class="s" y="462.7"><tspan x="727.5">Enjoy Riddles</tspan><tspan x="727.5" dy="6.8">&amp; Puzzles</tspan></text></g>
<g id="n-mischievious"><rect class="k" x="705" y="486.3" width="46" height="9.4"/><text class="s" x="728" y="493.1">Mischievious</text></g>
<g id="n-flights"><rect class="k" x="655" y="488.9" width="46" height="16.2"/><text class="s" y="495.7"><tspan x="678">Flights of</tspan><tspan x="678" dy="6.8">Silliness</tspan></text></g>

<g id="n-teal"><ellipse class="t" cx="822" cy="311" rx="32" ry="22"/></g>
<g id="n-loss"><rect class="t" x="767" y="255.4" width="46" height="16.2"/><text class="s" y="262.2"><tspan x="790">Loss of Natural</tspan><tspan x="790" dy="6.8">Beauty</tspan></text></g>
<g id="n-destruction"><rect class="t" x="726" y="296.9" width="46" height="16.2"/><text class="s" y="303.7"><tspan x="749">Destruction of</tspan><tspan x="749" dy="6.8">Sacred Spaces</tspan></text></g>
<g id="n-balance"><rect class="t" x="758" y="344.4" width="46" height="16.2"/><text class="s" y="351.2"><tspan x="781">Balance with</tspan><tspan x="781" dy="6.8">Nature?</tspan></text></g>

<g id="n-greenedge1"><rect class="g" x="805" y="406" width="46" height="16"/></g>
<g id="n-corruption"><rect class="g" x="770" y="451.3" width="46" height="9.4"/><text class="s" x="793" y="458.1">Corruption</text></g>
<g id="n-perceived"><rect class="g" x="784" y="470.9" width="46" height="16.2"/><text class="s" y="477.7"><tspan x="807">Perceived</tspan><tspan x="807" dy="6.8">Moral Code</tspan></text></g>
<g id="n-greenedge2"><rect class="g" x="806" y="498" width="46" height="16"/></g>
</svg>
